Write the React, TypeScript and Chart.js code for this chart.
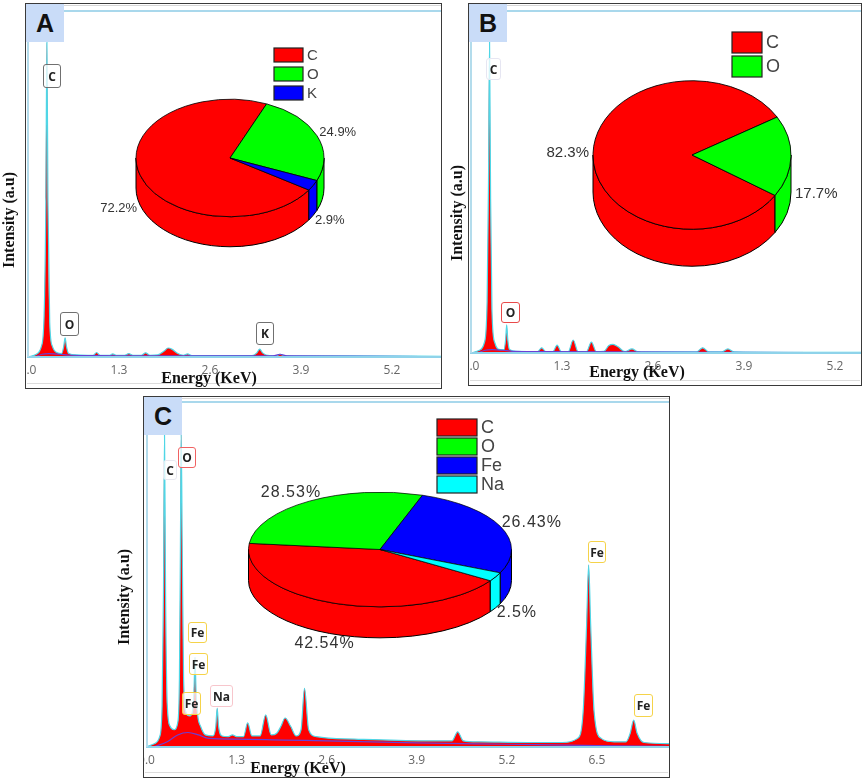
import React, { useEffect, useRef } from 'react';
import { Chart, registerables } from 'chart.js';
Chart.register(...registerables);

// ---------------- DATA ----------------
const tickStep = 1.3;

// Panel A spectrum (keV, % of full scale)
const energyA = [0, 0.12, 0.19, 0.23, 0.255, 0.27, 0.285, 0.31, 0.35, 0.42,
  0.48, 0.51, 0.53, 0.55, 0.58, 0.7,
  0.93, 0.98, 1.03, 1.1, 1.17, 1.21, 1.26, 1.38, 1.44, 1.5, 1.62, 1.68, 1.74, 1.85, 1.95, 2.0, 2.06, 2.14, 2.22, 2.28, 2.34, 2.5,
  3.2, 3.27, 3.31, 3.35, 3.45, 3.55, 3.6, 3.66, 3.8, 4.6, 5.9];
const countsA = [0, 0.8, 3, 12, 45, 91, 45, 10, 3, 1.2,
  1.0, 3, 5.5, 3, 1.0, 0.6,
  0.5, 1.3, 0.5, 0.5, 0.5, 0.9, 0.5, 0.5, 1.0, 0.5, 0.5, 1.2, 0.5, 0.6, 1.8, 2.6, 2.2, 1.0, 0.5, 0.9, 0.4, 0.4,
  0.4, 1.2, 2.3, 1.2, 0.4, 0.4, 0.8, 0.4, 0.3, 0.3, 0.2];
const bgEnergyA = [0.1, 0.2, 0.3, 0.45, 0.6, 1.0, 2.0, 3.5, 3.6, 3.7, 5.9];
const bgCountsA = [0, 0.8, 1.0, 0.8, 0.5, 0.4, 0.3, 0.3, 0.8, 0.3, 0.1];

// Panel B spectrum
const energyB = [0, 0.12, 0.19, 0.23, 0.25, 0.265, 0.28, 0.30, 0.34, 0.42,
  0.47, 0.495, 0.51, 0.525, 0.55, 0.65,
  0.95, 1.01, 1.07, 1.17, 1.23, 1.29, 1.39, 1.46, 1.53, 1.65, 1.72, 1.79, 1.9, 1.97, 2.03, 2.1, 2.2, 2.3, 2.38, 2.5,
  3.22, 3.31, 3.4, 3.58, 3.67, 3.76, 4.5, 5.6];
const countsB = [0, 0.8, 3, 15, 50, 91, 45, 12, 3, 1.0,
  1.0, 4, 8.2, 4, 1.0, 0.5,
  0.4, 1.5, 0.4, 0.4, 2.3, 0.4, 0.4, 3.8, 0.4, 0.4, 3.2, 0.4, 0.5, 2.2, 2.5, 1.8, 0.4, 1.2, 0.4, 0.3,
  0.3, 1.5, 0.3, 0.3, 1.2, 0.3, 0.2, 0.2];
const bgEnergyB = [0.1, 0.2, 0.3, 0.45, 0.6, 1.0, 2.0, 3.5, 5.6];
const bgCountsB = [0, 0.8, 1.0, 0.8, 0.5, 0.4, 0.3, 0.2, 0.1];

// Panel C spectrum
const energyC = [0, 0.12, 0.19, 0.225, 0.245, 0.26, 0.275, 0.3, 0.34, 0.4,
  0.45, 0.475, 0.49, 0.5, 0.515, 0.535, 0.57,
  0.62, 0.66, 0.685, 0.7, 0.715, 0.74, 0.78, 0.85,
  0.96, 1.0, 1.02, 1.04, 1.09, 1.18, 1.24, 1.3,
  1.4, 1.46, 1.52, 1.64, 1.72, 1.8, 1.88, 1.94, 2.0, 2.08, 2.16, 2.23, 2.28, 2.34, 2.45,
  3.0, 4.0, 4.41, 4.49, 4.57, 4.8, 5.5, 6.0,
  6.22, 6.3, 6.35, 6.38, 6.41, 6.46, 6.56, 6.75,
  6.92, 6.98, 7.03, 7.08, 7.18, 7.55];
const countsC = [0, 1.0, 3, 12, 45, 91, 45, 12, 6, 5,
  7, 20, 60, 91, 60, 20, 10,
  9, 10, 16, 26, 16, 9, 6, 3.5,
  3.2, 6, 11.3, 6, 3.2, 3.0, 3.5, 3.0,
  3.0, 7, 3.2, 3.2, 9.3, 3.5, 4, 6, 8.4, 6, 3.2, 5, 17, 5, 3.0,
  2.3, 1.8, 1.8, 4.4, 1.8, 1.5, 1.3, 1.3,
  2.5, 10, 35, 52.8, 35, 10, 2.5, 1.5,
  1.5, 4, 7.8, 4, 1.3, 1.0];
const bgEnergyC = [0.1, 0.3, 0.45, 0.6, 0.75, 0.9, 1.3, 2.0, 2.6, 3.9, 5.2, 6.5, 7.5];
const bgCountsC = [0, 1.5, 3.5, 4.2, 3.5, 2.5, 2.3, 2.0, 1.8, 1.2, 0.8, 0.4, 0.2];

// Composition pies (wt %)
const elementsA = ['C', 'O', 'K'];
const percentA = [72.2, 24.9, 2.9];
const elementsB = ['C', 'O'];
const percentB = [82.3, 17.7];
const elementsC = ['C', 'O', 'Fe', 'Na'];
const percentC = [42.54, 28.53, 26.43, 2.5];
const pieColors = ['#ff0000', '#00ff00', '#0000ff', '#00ffff'];

const xTitle = 'Energy (KeV)';
const yTitle = 'Intensity (a.u)';

// ---------------- LAYOUT ----------------
const layouts = [
  {
    letter: 'A', frame: { l: 25, t: 3, r: 442, b: 389 }, x0: 28, top: 11, base: 357,
    energy: energyA, counts: countsA, bgE: bgEnergyA, bgC: bgCountsA, ppk: 70,
    yT: { x: 9, y: 220 }, xT: { x: 209, y: 378 },
    tags: [
      { s: 'C', l: 43, t: 64, w: 18, h: 24, c: '#707070' },
      { s: 'O', l: 60, t: 312, w: 19, h: 24, c: '#707070' },
      { s: 'K', l: 256, t: 322, w: 18, h: 23, c: '#707070' },
    ],
    pie: {
      labels: elementsA, values: percentA, box: { l: 60, t: 35, w: 340, h: 240 },
      cx: 230, cyTop: 158, R: 94.5, squash: 0.625, depth: 30,
      labelFont: '13px "Liberation Sans"', ls: '0px',
      legend: { x: 274, y: 48, bw: 29, bh: 14, gap: 5, font: '15px "Liberation Sans"' },
    },
  },
  {
    letter: 'B', frame: { l: 468, t: 3, r: 862, b: 386 }, x0: 471, top: 11, base: 353,
    energy: energyB, counts: countsB, bgE: bgEnergyB, bgC: bgCountsB, ppk: 70,
    yT: { x: 457, y: 213 }, xT: { x: 637, y: 372 },
    tags: [
      { s: 'C', l: 486, t: 58, w: 15, h: 22, c: '#e6e6f2' },
      { s: 'O', l: 501, t: 302, w: 19, h: 21, c: '#e84a4a' },
    ],
    pie: {
      labels: elementsB, values: percentB, box: { l: 520, t: 20, w: 340, h: 260 },
      cx: 692, cyTop: 155, R: 99.5, squash: 0.75, depth: 37,
      labelFont: '15px "Liberation Sans"', ls: '0px',
      legend: { x: 732, y: 32, bw: 30, bh: 21, gap: 3, font: '18px "Liberation Sans"' },
    },
  },
  {
    letter: 'C', frame: { l: 143, t: 396, r: 670, b: 778 }, x0: 146.5, top: 402, base: 747,
    energy: energyC, counts: countsC, bgE: bgEnergyC, bgC: bgCountsC, ppk: 69.3,
    yT: { x: 124, y: 597 }, xT: { x: 298, y: 768 },
    tags: [
      { s: 'C', l: 163, t: 460, w: 14, h: 20, c: '#e8e8f0' },
      { s: 'O', l: 178, t: 447, w: 18, h: 21, c: '#f06262' },
      { s: 'Fe', l: 188, t: 622, w: 19, h: 21, c: '#f5d34a' },
      { s: 'Fe', l: 189, t: 653, w: 19, h: 22, c: '#f5d34a' },
      { s: 'Fe', l: 182, t: 692, w: 19, h: 23, c: '#f5d34a' },
      { s: 'Na', l: 210, t: 685, w: 23, h: 22, c: '#f7c6cc' },
      { s: 'Fe', l: 588, t: 541, w: 18, h: 22, c: '#f5d34a' },
      { s: 'Fe', l: 634, t: 694, w: 19, h: 23, c: '#f5d34a' },
    ],
    pie: {
      labels: elementsC, values: percentC, box: { l: 180, t: 405, w: 420, h: 280 },
      cx: 380, cyTop: 549.5, R: 132, squash: 0.436, depth: 31,
      labelFont: '16px "Liberation Sans"', ls: '1px',
      legend: { x: 437, y: 419, bw: 40, bh: 17, gap: 2, font: '18px "Liberation Sans"' },
    },
  },
];

// ---------------- 3D PIE PLUGIN ----------------
const pie3d = {
  id: 'pie3d',
  beforeDatasetsDraw(chart: any, _a: any, o: any) {
    const ctx = chart.ctx;
    const arcs = chart.getDatasetMeta(0).data;
    if (!arcs.length) return;
    const cx = arcs[0].x, cy = arcs[0].y, R = arcs[0].outerRadius;
    const ry = R * o.squash, ty = o.cyTop, d = o.depth;
    const colors = chart.data.datasets[0].backgroundColor;
    ctx.save();
    arcs.forEach((arc: any, i: number) => {
      for (let n = -1; n <= 2; n++) {
        const lo = Math.max(arc.startAngle, n * 2 * Math.PI);
        const hi = Math.min(arc.endAngle, n * 2 * Math.PI + Math.PI);
        if (hi - lo > 1e-6) {
          ctx.beginPath();
          ctx.ellipse(cx, ty, R, ry, 0, lo, hi, false);
          ctx.ellipse(cx, ty + d, R, ry, 0, hi, lo, true);
          ctx.closePath();
          ctx.fillStyle = colors[i];
          ctx.fill();
          ctx.lineWidth = 1;
          ctx.strokeStyle = '#000';
          ctx.stroke();
        }
      }
    });
    ctx.restore();
    ctx.save();
    ctx.translate(cx, ty);
    ctx.scale(1, o.squash);
    ctx.translate(-cx, -cy);
  },
  afterDatasetsDraw(chart: any) {
    chart.ctx.restore();
  },
  afterDraw(chart: any, _a: any, o: any) {
    const ctx = chart.ctx;
    const arcs = chart.getDatasetMeta(0).data;
    if (!arcs.length) return;
    const cx = arcs[0].x, R = arcs[0].outerRadius;
    const ry = R * o.squash, ty = o.cyTop, d = o.depth;
    const values = chart.data.datasets[0].data;
    const colors = chart.data.datasets[0].backgroundColor;
    ctx.save();
    ctx.font = o.labelFont;
    (ctx as any).letterSpacing = o.ls;
    ctx.fillStyle = '#333';
    ctx.textAlign = 'center';
    ctx.textBaseline = 'middle';
    arcs.forEach((arc: any, i: number) => {
      const m = (arc.startAngle + arc.endAngle) / 2;
      const c = Math.cos(m), s = Math.sin(m);
      const text = values[i] + '%';
      const w = ctx.measureText(text).width;
      const x = cx + (R + w / 2 + 4) * c;
      const y = ty + (ry + 10) * s + (s > 0 ? d : 0);
      ctx.fillText(text, x, y);
    });
    // legend
    (ctx as any).letterSpacing = '0px';
    ctx.font = o.lgFont;
    ctx.textAlign = 'left';
    chart.data.labels.forEach((lab: string, i: number) => {
      const yy = o.lgY + i * (o.lgBh + o.lgGap);
      ctx.fillStyle = colors[i];
      ctx.fillRect(o.lgX, yy, o.lgBw, o.lgBh);
      ctx.lineWidth = 1.2;
      ctx.strokeStyle = '#222';
      ctx.strokeRect(o.lgX, yy, o.lgBw, o.lgBh);
      ctx.fillStyle = '#444';
      ctx.fillText(lab, o.lgX + o.lgBw + 4, yy + o.lgBh / 2 + 1);
    });
    ctx.restore();
  },
};

// ---------------- COMPONENTS ----------------
function Spectrum({ L }: { L: any }) {
  const ref = useRef<HTMLCanvasElement>(null);
  const W = L.frame.r - L.frame.l;
  const H = L.frame.b - L.frame.t;
  useEffect(() => {
    const xMax = (L.frame.r - L.x0) / L.ppk;
    const chart = new Chart(ref.current as HTMLCanvasElement, {
      type: 'scatter',
      data: {
        datasets: [
          {
            data: L.bgE.map((x: number, i: number) => ({ x, y: L.bgC[i] })),
            showLine: true, fill: false, borderColor: '#6b3fd4', borderWidth: 1.2,
            pointRadius: 0, cubicInterpolationMode: 'monotone', order: 0,
          },
          {
            data: L.energy.map((x: number, i: number) => ({ x, y: L.counts[i] })),
            showLine: true, fill: 'origin', backgroundColor: '#ff0000', borderColor: '#4fd6e6',
            borderWidth: 1.2, pointRadius: 0, cubicInterpolationMode: 'monotone', order: 1,
          },
        ],
      } as any,
      options: {
        animation: false, responsive: false, devicePixelRatio: 1,
        layout: { padding: { left: L.x0 - L.frame.l, top: L.top - L.frame.t, right: 0, bottom: 0 } },
        plugins: { legend: { display: false }, tooltip: { enabled: false } },
        scales: {
          x: {
            type: 'linear', min: 0, max: xMax,
            border: { display: true, color: '#8fd3ea', width: 2, z: 1 },
            grid: { display: false, drawTicks: false },
            ticks: {
              stepSize: tickStep, includeBounds: false, padding: 6, color: '#666',
              font: { family: '"Open Sans"', size: 12 }, maxRotation: 0, autoSkip: false,
              callback: (v: any) => Number(v).toFixed(1),
            },
            afterFit: (s: any) => { s.height = L.frame.b - L.base; s.paddingLeft = 0; s.paddingRight = 0; },
          },
          y: { display: false, min: 0, max: 100 },
        },
      } as any,
    });
    return () => chart.destroy();
  }, []);
  return (
    <canvas ref={ref} width={W} height={H}
      style={{ position: 'absolute', left: L.frame.l, top: L.frame.t, width: W, height: H }} />
  );
}

function Pie3D({ P }: { P: any }) {
  const ref = useRef<HTMLCanvasElement>(null);
  const { box } = P;
  useEffect(() => {
    const cxl = P.cx - box.l;
    const chart = new Chart(ref.current as HTMLCanvasElement, {
      type: 'pie',
      data: {
        labels: P.labels,
        datasets: [{ data: P.values, backgroundColor: pieColors.slice(0, P.values.length), borderColor: '#000', borderWidth: 1, hoverOffset: 0 }],
      },
      options: {
        animation: false, responsive: false, devicePixelRatio: 1, rotation: 123,
        layout: { padding: { left: cxl - P.R, right: box.w - cxl - P.R, top: 0, bottom: box.h - 2 * P.R } },
        plugins: {
          legend: { display: false }, tooltip: { enabled: false },
          pie3d: {
            squash: P.squash, cyTop: P.cyTop - box.t, depth: P.depth,
            labelFont: P.labelFont, ls: P.ls,
            lgX: P.legend.x - box.l, lgY: P.legend.y - box.t, lgBw: P.legend.bw, lgBh: P.legend.bh,
            lgGap: P.legend.gap, lgFont: P.legend.font,
          },
        },
      } as any,
      plugins: [pie3d],
    });
    return () => chart.destroy();
  }, []);
  return (
    <canvas ref={ref} width={box.w} height={box.h}
      style={{ position: 'absolute', left: box.l, top: box.t, width: box.w, height: box.h }} />
  );
}

function Panel({ L }: { L: any }) {
  const f = L.frame;
  const lbR = f.l + 39;
  return (
    <>
      <Spectrum L={L} />
      {/* top decorative lines */}
      <div style={{ position: 'absolute', left: lbR, top: f.t + 2, width: f.r - lbR, height: 1, background: '#d6d6d6' }} />
      <div style={{ position: 'absolute', left: lbR, top: L.top - 1, width: f.r - lbR, height: 2, background: '#a9d8ec' }} />
      <div style={{ position: 'absolute', left: L.x0 - 1, top: f.t + 39, width: 2, height: L.base - f.t - 39, background: '#b3dcec' }} />
      <div style={{ position: 'absolute', left: f.l + 2, top: f.b - 6, width: f.r - f.l - 4, height: 1, background: '#dcdcdc' }} />
      <Pie3D P={L.pie} />
      {L.tags.map((t: any, i: number) => (
        <div key={i} style={{
          position: 'absolute', left: t.l, top: t.t, width: t.w, height: t.h, boxSizing: 'border-box',
          border: `1.5px solid ${t.c}`, borderRadius: 3, background: 'rgba(255,255,255,0.75)',
          font: '700 12px "Open Sans"', color: '#222', display: 'flex', alignItems: 'center', justifyContent: 'center',
        }}>{t.s}</div>
      ))}
      <div style={{
        position: 'absolute', left: f.l + 1, top: f.t + 1, width: 38, height: 38, background: '#c9dcf8',
        font: '700 25px "Liberation Sans"', color: '#111', display: 'flex', alignItems: 'center', justifyContent: 'center',
      }}>{L.letter}</div>
      <div style={{
        position: 'absolute', left: f.l, top: f.t, width: f.r - f.l, height: f.b - f.t, boxSizing: 'border-box',
        border: '1.5px solid #3a3a3a', pointerEvents: 'none',
      }} />
      <div style={{
        position: 'absolute', left: L.xT.x, top: L.xT.y, transform: 'translate(-50%,-50%)', whiteSpace: 'nowrap',
        font: '700 16px "Liberation Serif"', color: '#111',
      }}>{xTitle}</div>
      <div style={{
        position: 'absolute', left: L.yT.x, top: L.yT.y, transform: 'translate(-50%,-50%) rotate(-90deg)', whiteSpace: 'nowrap',
        font: '700 16px "Liberation Serif"', color: '#111',
      }}>{yTitle}</div>
    </>
  );
}

export default function App() {
  return (
    <div style={{ position: 'absolute', left: 0, top: 0, width: 865, height: 782, background: '#fff', overflow: 'hidden' }}>
      {layouts.map((L, i) => <Panel key={i} L={L} />)}
    </div>
  );
}
